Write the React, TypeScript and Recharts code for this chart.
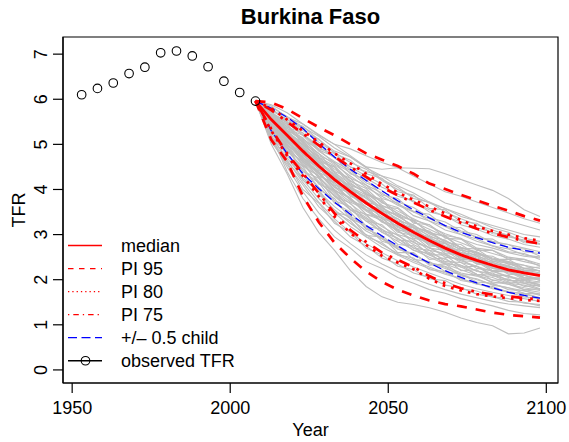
import React from "react";
import { LineChart, Line, XAxis, YAxis, ReferenceArea } from "recharts";

// observed TFR (5-year periods)
const obsYears = [1953, 1958, 1963, 1968, 1973, 1978, 1983, 1988, 1993, 1998, 2003, 2008];
const obsTFR = [6.1, 6.24, 6.36, 6.57, 6.71, 7.03, 7.07, 6.96, 6.72, 6.4, 6.15, 5.96];

// projection periods
const projYears = [
  2008, 2013, 2018, 2023, 2028, 2033, 2038, 2043, 2048, 2053, 2058, 2063, 2068, 2073, 2078,
  2083, 2088, 2093, 2098,
];
const median = [5.96, 5.55, 5.2, 4.85, 4.52, 4.22, 3.95, 3.7, 3.47, 3.25, 3.05, 2.87, 2.7, 2.55, 2.43, 2.32, 2.22, 2.15, 2.09];
const pi95Upper = [5.96, 5.93, 5.78, 5.58, 5.38, 5.2, 5.0, 4.8, 4.66, 4.52, 4.35, 4.13, 4.01, 3.88, 3.76, 3.64, 3.53, 3.41, 3.31];
const pi95Lower = [5.96, 5.1, 4.62, 3.85, 3.28, 2.82, 2.48, 2.18, 1.95, 1.78, 1.65, 1.54, 1.46, 1.41, 1.34, 1.27, 1.22, 1.19, 1.16];
const pi80Upper = [5.96, 5.8, 5.55, 5.3, 5.05, 4.8, 4.58, 4.35, 4.12, 3.93, 3.77, 3.62, 3.47, 3.32, 3.18, 3.08, 3.0, 2.92, 2.86];
const pi80Lower = [5.96, 5.3, 4.75, 4.3, 3.85, 3.4, 3.03, 2.77, 2.53, 2.38, 2.23, 2.02, 1.86, 1.76, 1.68, 1.63, 1.59, 1.55, 1.53];
const pi75Upper = [5.96, 5.76, 5.5, 5.24, 4.98, 4.73, 4.5, 4.28, 4.05, 3.87, 3.71, 3.55, 3.4, 3.26, 3.13, 3.03, 2.94, 2.86, 2.8];
const pi75Lower = [5.96, 5.34, 4.8, 4.36, 3.92, 3.47, 3.1, 2.84, 2.6, 2.44, 2.28, 2.08, 1.92, 1.81, 1.73, 1.67, 1.63, 1.59, 1.56];
const halfChildUpper = [5.96, 5.8, 5.6, 5.35, 5.02, 4.72, 4.45, 4.2, 3.97, 3.75, 3.55, 3.37, 3.2, 3.05, 2.93, 2.82, 2.72, 2.65, 2.59];
const halfChildLower = [5.96, 5.3, 4.8, 4.35, 4.02, 3.72, 3.45, 3.2, 2.97, 2.75, 2.55, 2.37, 2.2, 2.05, 1.93, 1.82, 1.72, 1.65, 1.59];

// simulated trajectories (gray)
const trajectories: number[][] = [
  [5.96, 5.88, 5.7, 5.45, 5.22, 5.0, 4.75, 4.5, 4.45, 4.48, 4.47, 4.46, 4.35, 4.22, 4.1, 3.98, 3.8, 3.55, 3.4],
  [5.96, 5.85, 5.6, 5.45, 5.2, 5.0, 4.9, 4.75, 4.6, 4.48, 4.3, 4.12, 3.95, 3.85, 3.72, 3.6, 3.48, 3.35, 3.25],
  [5.96, 5.75, 5.55, 5.35, 5.05, 4.82, 4.6, 4.45, 4.2, 4.0, 3.85, 3.7, 3.58, 3.45, 3.3, 3.2, 3.1, 3.0, 2.95],
  [5.96, 5.7, 5.48, 5.2, 4.95, 4.7, 4.45, 4.25, 4.05, 3.9, 3.72, 3.55, 3.4, 3.28, 3.15, 3.05, 2.95, 2.88, 2.8],
  [5.96, 5.65, 5.35, 5.1, 4.8, 4.55, 4.3, 4.05, 3.85, 3.65, 3.5, 3.35, 3.2, 3.05, 2.95, 2.85, 2.78, 2.7, 2.62],
  [5.96, 5.62, 5.3, 5.0, 4.7, 4.45, 4.2, 3.95, 3.72, 3.52, 3.35, 3.18, 3.02, 2.9, 2.78, 2.7, 2.6, 2.52, 2.48],
  [5.96, 5.58, 5.25, 4.92, 4.6, 4.32, 4.05, 3.82, 3.6, 3.4, 3.2, 3.02, 2.86, 2.72, 2.6, 2.48, 2.4, 2.32, 2.25],
  [5.96, 5.55, 5.2, 4.85, 4.55, 4.25, 3.98, 3.72, 3.5, 3.28, 3.1, 2.92, 2.75, 2.6, 2.48, 2.38, 2.28, 2.2, 2.12],
  [5.96, 5.52, 5.15, 4.78, 4.45, 4.15, 3.88, 3.62, 3.4, 3.18, 3.0, 2.82, 2.65, 2.5, 2.38, 2.27, 2.18, 2.1, 2.02],
  [5.96, 5.48, 5.08, 4.7, 4.35, 4.05, 3.78, 3.52, 3.3, 3.08, 2.88, 2.7, 2.55, 2.42, 2.3, 2.18, 2.08, 2.0, 1.95],
  [5.96, 5.45, 5.02, 4.62, 4.28, 3.95, 3.68, 3.42, 3.18, 2.98, 2.78, 2.6, 2.45, 2.32, 2.2, 2.1, 2.0, 1.92, 1.85],
  [5.96, 5.4, 4.95, 4.55, 4.18, 3.85, 3.55, 3.3, 3.05, 2.85, 2.66, 2.5, 2.35, 2.22, 2.1, 2.0, 1.9, 1.82, 1.76],
  [5.96, 5.35, 4.88, 4.45, 4.05, 3.72, 3.42, 3.15, 2.92, 2.72, 2.55, 2.38, 2.25, 2.12, 2.0, 1.9, 1.82, 1.75, 1.68],
  [5.96, 5.28, 4.78, 4.32, 3.9, 3.55, 3.25, 3.0, 2.78, 2.58, 2.42, 2.28, 2.15, 2.02, 1.92, 1.82, 1.74, 1.68, 1.6],
  [5.96, 5.2, 4.65, 4.15, 3.72, 3.35, 3.05, 2.8, 2.6, 2.42, 2.28, 2.15, 2.02, 1.9, 1.8, 1.72, 1.65, 1.58, 1.52],
  [5.96, 5.1, 4.5, 3.95, 3.48, 3.1, 2.8, 2.55, 2.35, 2.18, 2.02, 1.9, 1.78, 1.68, 1.6, 1.52, 1.46, 1.42, 1.38],
  [5.96, 5.0, 4.35, 3.6, 3.05, 2.65, 2.2, 1.85, 1.62, 1.5, 1.45, 1.38, 1.28, 1.15, 1.05, 0.98, 0.8, 0.82, 0.93],
  [5.96, 5.6, 5.4, 5.05, 4.65, 4.5, 4.15, 3.9, 3.78, 3.45, 3.3, 3.05, 2.95, 2.7, 2.62, 2.45, 2.4, 2.25, 2.2],
  [5.96, 5.5, 5.05, 4.8, 4.38, 4.2, 3.85, 3.7, 3.35, 3.25, 2.95, 2.88, 2.62, 2.58, 2.35, 2.32, 2.12, 2.1, 1.98],
  [5.96, 5.75, 5.3, 5.15, 4.75, 4.6, 4.25, 4.1, 3.8, 3.7, 3.42, 3.3, 3.1, 3.0, 2.85, 2.75, 2.62, 2.58, 2.45],
  [5.96, 5.38, 5.1, 4.6, 4.4, 3.98, 3.8, 3.45, 3.32, 3.0, 2.9, 2.65, 2.58, 2.38, 2.3, 2.12, 2.08, 1.95, 1.9],
  [5.96, 5.25, 4.92, 4.4, 4.15, 3.7, 3.5, 3.12, 2.98, 2.68, 2.58, 2.35, 2.28, 2.08, 2.02, 1.88, 1.82, 1.7, 1.68],
  [5.96, 5.65, 5.48, 5.25, 4.9, 4.8, 4.5, 4.3, 4.12, 3.85, 3.75, 3.5, 3.42, 3.22, 3.12, 2.98, 2.9, 2.78, 2.72],
  [5.96, 5.15, 4.7, 4.25, 3.95, 3.5, 3.3, 2.95, 2.82, 2.55, 2.48, 2.22, 2.18, 1.98, 1.92, 1.8, 1.72, 1.62, 1.58],
  [5.96, 5.8, 5.5, 5.4, 5.1, 4.85, 4.72, 4.5, 4.22, 4.05, 3.8, 3.72, 3.5, 3.35, 3.22, 3.1, 2.98, 2.85, 2.78],
  [5.96, 5.45, 5.18, 4.75, 4.5, 4.1, 3.95, 3.6, 3.45, 3.15, 3.05, 2.8, 2.72, 2.48, 2.42, 2.25, 2.2, 2.05, 2.02],
  [5.96, 5.3, 4.85, 4.5, 4.0, 3.8, 3.35, 3.2, 2.85, 2.75, 2.45, 2.4, 2.18, 2.12, 1.95, 1.92, 1.78, 1.76, 1.65],
  [5.96, 5.05, 4.6, 4.0, 3.7, 3.25, 3.05, 2.7, 2.55, 2.3, 2.22, 2.02, 1.98, 1.8, 1.75, 1.62, 1.58, 1.48, 1.45],
  [5.96, 5.68, 5.35, 5.2, 4.85, 4.62, 4.42, 4.15, 3.98, 3.72, 3.6, 3.38, 3.28, 3.08, 3.0, 2.82, 2.78, 2.62, 2.58],
  [5.96, 5.7, 5.5, 5.2, 5.0, 4.7, 4.5, 4.4, 4.3, 4.2, 4.05, 3.9, 3.7, 3.6, 3.5, 3.4, 3.3, 3.2, 3.1],
  [5.96, 5.55, 5.1, 4.65, 4.35, 4.0, 3.72, 3.55, 3.28, 3.1, 2.82, 2.72, 2.5, 2.45, 2.25, 2.2, 2.05, 2.0, 1.88],
  [5.96, 5.42, 4.98, 4.7, 4.25, 3.92, 3.6, 3.38, 3.12, 2.92, 2.7, 2.55, 2.38, 2.28, 2.12, 2.05, 1.92, 1.88, 1.78],
  [5.96, 5.2, 4.4, 3.8, 3.35, 2.95, 2.7, 2.4, 2.25, 2.05, 1.92, 1.78, 1.7, 1.58, 1.5, 1.42, 1.32, 1.25, 1.22],
  [5.96, 5.62, 5.28, 4.98, 4.72, 4.38, 4.12, 3.92, 3.65, 3.48, 3.28, 3.12, 2.95, 2.82, 2.68, 2.58, 2.48, 2.4, 2.32],
  [5.96, 5.52, 5.22, 4.88, 4.48, 4.28, 3.92, 3.75, 3.45, 3.35, 3.05, 2.95, 2.72, 2.65, 2.45, 2.38, 2.25, 2.18, 2.1],
  [5.96, 5.62, 5.45, 5.02, 4.8, 4.4, 4.25, 3.88, 3.75, 3.4, 3.32, 3.02, 2.98, 2.7, 2.68, 2.45, 2.45, 2.25, 2.28],
  [5.96, 5.5, 5.12, 4.9, 4.42, 4.3, 3.9, 3.68, 3.5, 3.22, 3.15, 2.85, 2.8, 2.55, 2.52, 2.3, 2.28, 2.12, 2.15],
  [5.96, 5.4, 5.15, 4.68, 4.5, 4.05, 3.92, 3.55, 3.48, 3.1, 3.08, 2.75, 2.72, 2.45, 2.45, 2.2, 2.22, 2.02, 2.05],
  [5.96, 5.72, 5.38, 5.25, 4.88, 4.72, 4.35, 4.22, 3.88, 3.8, 3.5, 3.45, 3.18, 3.15, 2.92, 2.9, 2.7, 2.68, 2.52],
  [5.96, 5.35, 5.0, 4.52, 4.3, 3.85, 3.7, 3.3, 3.22, 2.88, 2.85, 2.55, 2.55, 2.28, 2.3, 2.08, 2.1, 1.92, 1.95],
  [5.96, 5.58, 5.15, 4.95, 4.55, 4.35, 3.98, 3.85, 3.52, 3.45, 3.15, 3.08, 2.82, 2.78, 2.55, 2.52, 2.35, 2.32, 2.18],
  [5.96, 5.28, 4.95, 4.4, 4.25, 3.75, 3.62, 3.18, 3.12, 2.78, 2.75, 2.45, 2.48, 2.2, 2.22, 1.98, 2.02, 1.85, 1.88],
  [5.96, 5.65, 5.25, 5.05, 4.62, 4.5, 4.08, 3.98, 3.62, 3.58, 3.25, 3.22, 2.92, 2.9, 2.65, 2.65, 2.45, 2.45, 2.3],
  [5.96, 5.45, 4.98, 4.78, 4.3, 4.15, 3.75, 3.62, 3.28, 3.2, 2.92, 2.85, 2.58, 2.55, 2.35, 2.3, 2.15, 2.1, 1.98],
  [5.96, 5.78, 5.55, 5.3, 5.12, 4.8, 4.65, 4.35, 4.25, 3.95, 3.88, 3.58, 3.55, 3.28, 3.25, 3.02, 3.0, 2.82, 2.8],
  [5.96, 5.18, 4.8, 4.2, 4.0, 3.5, 3.4, 2.98, 2.95, 2.6, 2.6, 2.32, 2.35, 2.1, 2.12, 1.92, 1.95, 1.78, 1.8],
  [5.96, 5.52, 5.3, 4.88, 4.68, 4.25, 4.1, 3.72, 3.62, 3.3, 3.22, 2.95, 2.88, 2.65, 2.6, 2.4, 2.38, 2.2, 2.2],
  [5.96, 5.32, 4.85, 4.62, 4.12, 3.98, 3.55, 3.45, 3.08, 3.0, 2.7, 2.65, 2.4, 2.38, 2.18, 2.15, 1.98, 1.98, 1.85],
  [5.96, 5.6, 5.2, 4.98, 4.6, 4.38, 4.05, 3.88, 3.58, 3.42, 3.18, 3.05, 2.85, 2.72, 2.58, 2.45, 2.35, 2.25, 2.2],
  [5.96, 5.42, 5.05, 4.72, 4.35, 4.08, 3.8, 3.55, 3.35, 3.12, 2.98, 2.78, 2.68, 2.5, 2.42, 2.25, 2.2, 2.05, 2.0],
  [5.96, 5.25, 4.75, 4.35, 3.95, 3.62, 3.35, 3.08, 2.9, 2.68, 2.55, 2.38, 2.3, 2.15, 2.08, 1.95, 1.9, 1.78, 1.72],
  [5.96, 5.08, 4.55, 4.1, 3.62, 3.3, 2.95, 2.75, 2.48, 2.35, 2.15, 2.05, 1.88, 1.82, 1.68, 1.62, 1.52, 1.5, 1.42],
  [5.96, 5.7, 5.42, 5.12, 4.88, 4.58, 4.38, 4.1, 3.92, 3.68, 3.52, 3.3, 3.18, 3.0, 2.9, 2.75, 2.68, 2.55, 2.5],
  [5.96, 5.48, 5.22, 4.8, 4.58, 4.18, 4.02, 3.68, 3.55, 3.25, 3.15, 2.9, 2.82, 2.6, 2.55, 2.35, 2.32, 2.15, 2.12],
  [5.96, 5.38, 4.92, 4.58, 4.15, 3.88, 3.55, 3.35, 3.05, 2.92, 2.65, 2.58, 2.35, 2.32, 2.12, 2.1, 1.95, 1.92, 1.8],
  [5.96, 5.82, 5.62, 5.38, 5.18, 4.92, 4.72, 4.48, 4.3, 4.08, 3.92, 3.72, 3.58, 3.4, 3.3, 3.15, 3.05, 2.92, 2.85],
  [5.96, 5.12, 4.62, 4.22, 3.8, 3.48, 3.18, 2.95, 2.72, 2.55, 2.38, 2.25, 2.12, 2.02, 1.9, 1.85, 1.72, 1.7, 1.6],
  [5.96, 5.55, 5.28, 4.92, 4.62, 4.3, 4.02, 3.8, 3.55, 3.35, 3.15, 2.98, 2.8, 2.68, 2.52, 2.42, 2.3, 2.22, 2.15],
  [5.96, 5.35, 5.08, 4.65, 4.38, 3.98, 3.82, 3.45, 3.38, 3.05, 2.98, 2.7, 2.65, 2.42, 2.4, 2.18, 2.18, 2.0, 2.02],
  [5.96, 5.65, 5.32, 5.08, 4.72, 4.52, 4.18, 4.02, 3.7, 3.6, 3.32, 3.22, 2.98, 2.92, 2.7, 2.65, 2.5, 2.45, 2.35],
];

const xTicks = [1950, 2000, 2050, 2100];
const yTicks = [0, 1, 2, 3, 4, 5, 6, 7];
const xDomain: [number, number] = [1947.1, 2103.7];
const yDomain: [number, number] = [-0.29, 7.38];

const FONT = '"Liberation Sans", Arial, Helvetica, sans-serif';

type Row = { year: number; [key: string]: number | undefined };

function buildRows(): Row[] {
  const years = Array.from(new Set([...obsYears, ...projYears])).sort((a, b) => a - b);
  return years.map((year) => {
    const row: Row = { year };
    const oi = obsYears.indexOf(year);
    if (oi >= 0) row.obs = obsTFR[oi];
    const pi = projYears.indexOf(year);
    if (pi >= 0) {
      row.median = median[pi];
      row.pi95u = pi95Upper[pi];
      row.pi95l = pi95Lower[pi];
      row.pi80u = pi80Upper[pi];
      row.pi80l = pi80Lower[pi];
      row.pi75u = pi75Upper[pi];
      row.pi75l = pi75Lower[pi];
      row.hcu = halfChildUpper[pi];
      row.hcl = halfChildLower[pi];
      trajectories.forEach((t, i) => {
        row[`t${i}`] = t[pi];
      });
    }
    return row;
  });
}

function XTick({ x, y, payload }: any) {
  return (
    <text x={x} y={y + 19} textAnchor="middle" fontSize={18} fill="#000" fontFamily={FONT}>
      {payload.value}
    </text>
  );
}

function YTick({ x, y, payload }: any) {
  return (
    <text
      x={x}
      y={y}
      transform={`rotate(-90 ${x} ${y})`}
      textAnchor="middle"
      fontSize={18}
      fill="#000"
      fontFamily={FONT}
    >
      {payload.value}
    </text>
  );
}

const legendItems = [
  { label: "median", color: "#ff0000", dash: undefined as string | undefined, circle: false },
  { label: "PI 95", color: "#ff0000", dash: "5.5 5.5", circle: false },
  { label: "PI 80", color: "#ff0000", dash: "1.3 3", circle: false },
  { label: "PI 75", color: "#ff0000", dash: "1.3 4 5.5 4", circle: false },
  { label: "+/\u2013 0.5 child", color: "#0000ff", dash: "9 4.5", circle: false },
  { label: "observed TFR", color: "#000000", dash: undefined, circle: true },
];

export default function App() {
  const data = buildRows();
  const W = 569;
  const H = 442;

  return (
    <div style={{ position: "absolute", left: 0, top: 0, width: W, height: H, background: "#fff" }}>
      <LineChart
        width={W}
        height={H}
        data={data}
        margin={{ top: 37, right: 11, left: 0, bottom: 0 }}
      >
        <XAxis
          dataKey="year"
          type="number"
          domain={xDomain}
          ticks={xTicks}
          allowDataOverflow
          height={59}
          tickSize={10}
          tickMargin={2}
          tick={<XTick />}
          axisLine={{ stroke: "#000", strokeWidth: 1.2 }}
          tickLine={{ stroke: "#000", strokeWidth: 1.2 }}
          label={{
            content: ({ viewBox }: any) => (
              <text
                x={viewBox.x + viewBox.width / 2}
                y={436}
                textAnchor="middle"
                fontSize={18}
                fill="#000"
                fontFamily={FONT}
              >
                Year
              </text>
            ),
          }}
        />
        <YAxis
          type="number"
          domain={yDomain}
          ticks={yTicks}
          allowDataOverflow
          width={63}
          tickSize={10}
          tickMargin={6}
          tick={<YTick />}
          axisLine={{ stroke: "#000", strokeWidth: 1.2 }}
          tickLine={{ stroke: "#000", strokeWidth: 1.2 }}
          label={{
            content: ({ viewBox }: any) => {
              const cx = 25;
              const cy = viewBox.y + viewBox.height / 2;
              return (
                <text
                  x={cx}
                  y={cy}
                  transform={`rotate(-90 ${cx} ${cy})`}
                  textAnchor="middle"
                  fontSize={18}
                  fill="#000"
                  fontFamily={FONT}
                >
                  TFR
                </text>
              );
            },
          }}
        />
        {trajectories.map((_, i) => (
          <Line
            key={`t${i}`}
            dataKey={`t${i}`}
            stroke="#bebebe"
            strokeWidth={1.1}
            dot={false}
            activeDot={false}
            isAnimationActive={false}
            type="linear"
          />
        ))}
        <Line dataKey="hcu" stroke="#0000ff" strokeWidth={1.3} strokeDasharray="8.5 4.5" dot={false} activeDot={false} isAnimationActive={false} />
        <Line dataKey="hcl" stroke="#0000ff" strokeWidth={1.3} strokeDasharray="8.5 4.5" dot={false} activeDot={false} isAnimationActive={false} />
        <Line dataKey="pi75u" stroke="#ff0000" strokeWidth={2.7} strokeDasharray="2.7 8 11 8" dot={false} activeDot={false} isAnimationActive={false} />
        <Line dataKey="pi75l" stroke="#ff0000" strokeWidth={2.7} strokeDasharray="2.7 8 11 8" dot={false} activeDot={false} isAnimationActive={false} />
        <Line dataKey="pi80u" stroke="#ff0000" strokeWidth={2.7} strokeDasharray="2.7 6" dot={false} activeDot={false} isAnimationActive={false} />
        <Line dataKey="pi80l" stroke="#ff0000" strokeWidth={2.7} strokeDasharray="2.7 6" dot={false} activeDot={false} isAnimationActive={false} />
        <Line dataKey="pi95u" stroke="#ff0000" strokeWidth={2.7} strokeDasharray="10 9" dot={false} activeDot={false} isAnimationActive={false} />
        <Line dataKey="pi95l" stroke="#ff0000" strokeWidth={2.7} strokeDasharray="10 9" dot={false} activeDot={false} isAnimationActive={false} />
        <Line dataKey="median" stroke="#ff0000" strokeWidth={2.8} dot={false} activeDot={false} isAnimationActive={false} />
        <Line
          dataKey="obs"
          stroke="none"
          dot={{ r: 4.3, fill: "none", stroke: "#000", strokeWidth: 1.1 }}
          activeDot={false}
          isAnimationActive={false}
        />
        <ReferenceArea
          x1={xDomain[0]}
          x2={xDomain[1]}
          y1={yDomain[0]}
          y2={yDomain[1]}
          fill="none"
          stroke="#000"
          strokeWidth={1.2}
          ifOverflow="visible"
        />
      </LineChart>

      {/* title and legend overlay */}
      <svg
        width={W}
        height={H}
        style={{ position: "absolute", left: 0, top: 0, pointerEvents: "none" }}
        fontFamily={FONT}
      >
        <text x={310.5} y={23.5} textAnchor="middle" fontSize={22} fontWeight="bold" fill="#000">
          Burkina Faso
        </text>
        {legendItems.map((item, i) => {
          const y = 245.5 + i * 23.05;
          return (
            <g key={item.label}>
              <line
                x1={68}
                x2={102}
                y1={y}
                y2={y}
                stroke={item.color}
                strokeWidth={1.3}
                strokeDasharray={item.dash}
              />
              {item.circle && <circle cx={85.5} cy={y} r={4.3} fill="none" stroke="#000" strokeWidth={1.1} />}
              <text x={121} y={y + 6.3} fontSize={18} fill="#000">
                {item.label}
              </text>
            </g>
          );
        })}
      </svg>
    </div>
  );
}
